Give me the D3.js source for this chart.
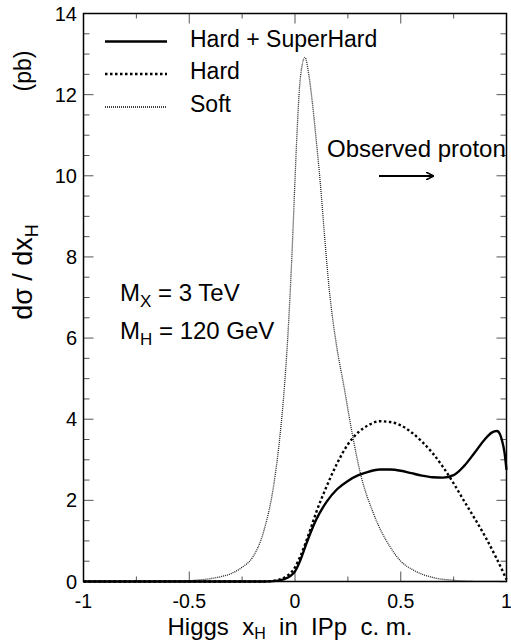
<!DOCTYPE html>
<html><head><meta charset="utf-8">
<script src="https://cdn.jsdelivr.net/npm/d3@7"></script>
<style>body{margin:0;background:#fff}svg{display:block;font-family:"Liberation Sans",Arial,sans-serif}</style>
</head><body><svg id="c" width="511" height="641"></svg>
<script>
// Data
const xTicks = [-1, -0.5, 0, 0.5, 1];
const xTickLabels = ["-1", "-0.5", "0", "0.5", "1"];
const yTicks = [0, 2, 4, 6, 8, 10, 12, 14];
const yTickLabels = ["0", "2", "4", "6", "8", "10", "12", "14"];
const legendLabels = ["Hard + SuperHard", "Hard", "Soft"];

const hardSuperX = [-1, -0.5, -0.15, -0.1, -0.05, 0, 0.025, 0.05, 0.075, 0.1, 0.15, 0.2, 0.25, 0.3, 0.35, 0.4, 0.45, 0.5, 0.55, 0.6, 0.65, 0.7, 0.75, 0.8, 0.85, 0.9, 0.93, 0.955, 0.97, 0.98, 0.99, 1.0];
const hardSuperY = [0, 0, 0, 0.01, 0.06, 0.25, 0.52, 0.88, 1.22, 1.52, 1.97, 2.28, 2.48, 2.62, 2.71, 2.76, 2.76, 2.73, 2.67, 2.61, 2.57, 2.56, 2.62, 2.85, 3.18, 3.52, 3.67, 3.71, 3.62, 3.45, 3.2, 2.75];

const hardX = [-1, -0.5, -0.15, -0.1, -0.05, 0, 0.025, 0.05, 0.075, 0.1, 0.15, 0.2, 0.25, 0.3, 0.35, 0.4, 0.45, 0.5, 0.55, 0.6, 0.65, 0.7, 0.75, 0.8, 0.85, 0.9, 0.95, 1.0];
const hardY = [0, 0, 0, 0.02, 0.1, 0.35, 0.62, 0.95, 1.32, 1.7, 2.35, 2.92, 3.38, 3.68, 3.86, 3.95, 3.93, 3.85, 3.68, 3.45, 3.17, 2.82, 2.42, 1.98, 1.55, 1.1, 0.6, 0.05];

const softX = [-1, -0.7, -0.6, -0.5, -0.45, -0.4, -0.35, -0.3, -0.25, -0.2, -0.15, -0.1, -0.075, -0.05, -0.03, -0.01, 0, 0.01, 0.025, 0.047, 0.065, 0.08, 0.1, 0.12, 0.14, 0.16, 0.18, 0.2, 0.23, 0.27, 0.31, 0.37, 0.45, 0.5, 0.56, 0.65, 0.75, 0.85, 1];
const softY = [0, 0.002, 0.008, 0.02, 0.04, 0.07, 0.12, 0.2, 0.35, 0.6, 1.2, 2.4, 3.4, 4.8, 6.4, 8.6, 9.9, 11.1, 12.4, 12.92, 12.5, 11.9, 10.9, 9.8, 8.5, 7.3, 6.4, 5.7, 4.85, 3.66, 2.65, 1.69, 0.85, 0.5, 0.28, 0.1, 0.03, 0.005, 0];

const svg = d3.select("#c");
const x = d3.scaleLinear().domain([-1, 1]).range([83.5, 506.5]);
const y = d3.scaleLinear().domain([0, 14]).range([581.5, 13.5]);
const L = x.range()[0], R = x.range()[1], B = y.range()[0], T = y.range()[1];

// ticks
const tickG = svg.append("g").attr("stroke", "#555").attr("stroke-width", 1);
const xMinor = d3.range(-1, 1.0001, 0.25);
xMinor.forEach(v => {
  const major = Math.abs(v * 2 - Math.round(v * 2)) < 1e-6;
  const len = major ? 10 : 5;
  tickG.append("line").attr("x1", x(v)).attr("x2", x(v)).attr("y1", B).attr("y2", B - len);
  tickG.append("line").attr("x1", x(v)).attr("x2", x(v)).attr("y1", T).attr("y2", T + len);
});
const yMinor = d3.range(0, 14.0001, 0.5);
yMinor.forEach(v => {
  const major = Math.abs(v / 2 - Math.round(v / 2)) < 1e-6;
  const len = major ? 10 : 6;
  tickG.append("line").attr("y1", y(v)).attr("y2", y(v)).attr("x1", L).attr("x2", L + len);
  tickG.append("line").attr("y1", y(v)).attr("y2", y(v)).attr("x1", R).attr("x2", R - len);
});

// curves
const line = d3.line().x(d => x(d[0])).y(d => y(d[1])).curve(d3.curveMonotoneX);
svg.append("path").datum(d3.zip(softX, softY)).attr("d", line)
  .attr("fill", "none").attr("stroke", "#222").attr("stroke-width", 1.3).attr("stroke-dasharray", "1,1");
svg.append("path").datum(d3.zip(hardX, hardY)).attr("d", line)
  .attr("fill", "none").attr("stroke", "#000").attr("stroke-width", 2.4).attr("stroke-dasharray", "2.5,2.5");
svg.append("path").datum(d3.zip(hardSuperX, hardSuperY)).attr("d", line)
  .attr("fill", "none").attr("stroke", "#000").attr("stroke-width", 2.4);

// frame
svg.append("rect").attr("x", L).attr("y", T).attr("width", R - L).attr("height", B - T)
  .attr("fill", "none").attr("stroke", "#000").attr("stroke-width", 1.5);

// tick labels
svg.append("g").selectAll("text").data(xTicks).join("text")
  .attr("x", d => x(d)).attr("y", 608).attr("text-anchor", "middle")
  .attr("font-size", 19.5).text((d, i) => xTickLabels[i]);
svg.append("g").selectAll("text").data(yTicks).join("text")
  .attr("x", 77).attr("y", d => y(d) + 7).attr("text-anchor", "end")
  .attr("font-size", 20).text((d, i) => yTickLabels[i]);

// axis titles
const xt = svg.append("text").attr("x", 290).attr("y", 635).attr("text-anchor", "middle")
  .attr("font-size", 24).attr("xml:space", "preserve").style("white-space", "pre");
xt.append("tspan").text("Higgs  x");
xt.append("tspan").attr("font-size", 16).attr("dy", 4).text("H");
xt.append("tspan").attr("dy", -4).text("  in  IPp  c. m.");

const yt = svg.append("text").attr("transform", "translate(32,272) rotate(-90)")
  .attr("text-anchor", "middle").attr("font-size", 27);
yt.append("tspan").text("dσ / dx");
yt.append("tspan").attr("font-size", 18).attr("dy", 6).text("H");
svg.append("text").attr("transform", "translate(31,71) rotate(-90)")
  .attr("text-anchor", "middle").attr("font-size", 23).text("(pb)");

// legend
const legY = [41.5, 74, 107];
const styles = [{w: 2.4, da: null}, {w: 2.4, da: "2.5,2.5"}, {w: 1.3, da: "1,1"}];
legendLabels.forEach((lab, i) => {
  const ln = svg.append("line").attr("x1", 105).attr("x2", 167).attr("y1", legY[i]).attr("y2", legY[i])
    .attr("stroke", "#000").attr("stroke-width", styles[i].w);
  if (styles[i].da) ln.attr("stroke-dasharray", styles[i].da);
  svg.append("text").attr("x", 190).attr("y", legY[i] + 5).attr("font-size", 23).text(lab);
});

// annotations
const m1 = svg.append("text").attr("x", 120).attr("y", 301).attr("font-size", 24);
m1.append("tspan").text("M");
m1.append("tspan").attr("font-size", 17).attr("dy", 6).text("X");
m1.append("tspan").attr("dy", -6).text(" = 3 TeV");
const m2 = svg.append("text").attr("x", 120).attr("y", 339).attr("font-size", 24);
m2.append("tspan").text("M");
m2.append("tspan").attr("font-size", 17).attr("dy", 6).text("H");
m2.append("tspan").attr("dy", -6).text(" = 120 GeV");

svg.append("text").attr("x", 327).attr("y", 157).attr("font-size", 24).text("Observed proton");
svg.append("defs").append("marker").attr("id", "ah").attr("viewBox", "0 0 10 10")
  .attr("refX", 9).attr("refY", 5).attr("markerWidth", 8).attr("markerHeight", 8)
  .attr("markerUnits", "userSpaceOnUse").attr("orient", "auto")
  .append("path").attr("d", "M0,0 L10,5 L0,10").attr("fill", "none").attr("stroke", "#000").attr("stroke-width", 2);
svg.append("line").attr("x1", 379).attr("x2", 433).attr("y1", 176).attr("y2", 176)
  .attr("stroke", "#000").attr("stroke-width", 2).attr("marker-end", "url(#ah)");
</script></body></html>
